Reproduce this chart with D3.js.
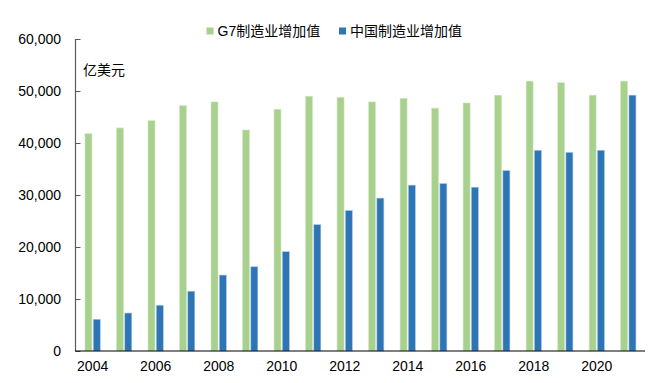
<!DOCTYPE html>
<html><head><meta charset="utf-8">
<script src="https://cdn.jsdelivr.net/npm/d3@7"></script>
<style>
html,body{margin:0;padding:0;background:#fff;}
svg text{font-family:"Liberation Sans",Arial,"Noto Sans CJK SC",sans-serif;font-size:14px;fill:#000;}
</style></head>
<body><svg id="c" width="656" height="383"></svg>
<script>
const years = [2004,2005,2006,2007,2008,2009,2010,2011,2012,2013,2014,2015,2016,2017,2018,2019,2020,2021];
const g7Values = [41800,42900,44300,47200,47900,42500,46500,49000,48800,47900,48600,46700,47700,49200,51900,51600,49200,51900];
const chinaValues = [6100,7300,8800,11500,14600,16200,19100,24300,27000,29400,31900,32200,31500,34700,38600,38200,38600,49200];
const yTicks = [0,10000,20000,30000,40000,50000,60000];
const xTickLabels = ["2004","2006","2008","2010","2012","2014","2016","2018","2020"];
const seriesNames = ["G7制造业增加值","中国制造业增加值"];
const unitLabel = "亿美元";
const colors = ["#A9D18E","#2E75B6"];

const svg = d3.select("#c");
const y = d3.scaleLinear().domain([0,60000]).range([351,39]);
const x = d3.scaleBand().domain(years.map(String)).range([76.5,643.7]).padding(0);
const bw = 7;

// bars
const g = svg.append("g");
g.selectAll(".g7").data(years).enter().append("rect")
  .attr("x", (d)=> x(String(d)) + x.bandwidth()/2 - 7.3)
  .attr("y", (d,i)=> y(g7Values[i]))
  .attr("width", bw)
  .attr("height", (d,i)=> y(0)-y(g7Values[i]))
  .attr("fill", colors[0])
  .attr("stroke","#d4e8c6").attr("stroke-width",0.6);
g.selectAll(".cn").data(years).enter().append("rect")
  .attr("x", (d)=> x(String(d)) + x.bandwidth()/2 + 1)
  .attr("y", (d,i)=> y(chinaValues[i]))
  .attr("width", bw)
  .attr("height", (d,i)=> y(0)-y(chinaValues[i]))
  .attr("fill", colors[1])
  .attr("stroke","#a9c6e6").attr("stroke-width",0.6);

// y axis
const yAxis = d3.axisRight(y).tickValues(yTicks).tickSize(5).tickFormat("");
const ya = svg.append("g").attr("transform","translate(75.5,0)").call(yAxis);
ya.select(".domain").attr("stroke","#595959").attr("stroke-width",1.2).attr("d","M0,39V351");
ya.selectAll(".tick line").attr("stroke","#595959");
svg.append("g").selectAll("text").data(yTicks).enter().append("text")
  .attr("x",61).attr("y",d=>y(d)).attr("dy","0.36em").attr("text-anchor","end")
  .text(d=>d3.format(",")(d));

// x axis
const xAxis = d3.axisBottom(x).tickValues(xTickLabels).tickSize(0).tickPadding(10);
const xa = svg.append("g").attr("transform","translate(0,351)").call(xAxis);
xa.select(".domain").attr("stroke","#000").attr("stroke-width",1.2).attr("d","M75,0H645");
xa.selectAll(".tick text").attr("font-size",null).attr("font-family",null).attr("y",10).attr("dy","0.71em").attr("dx","0.4");
xa.attr("font-size",null).attr("font-family",null);
ya.attr("font-size",null).attr("font-family",null);

// unit label
svg.append("text").attr("x",83).attr("y",75).text(unitLabel);

// legend
const leg = [{x:206.5,t:seriesNames[0],c:colors[0]},{x:339,t:seriesNames[1],c:colors[1]}];
leg.forEach(l=>{
  svg.append("rect").attr("x",l.x).attr("y",27.5).attr("width",7).attr("height",7).attr("fill",l.c);
  svg.append("text").attr("x",l.x+11).attr("y",36).text(l.t);
});
</script></body></html>
